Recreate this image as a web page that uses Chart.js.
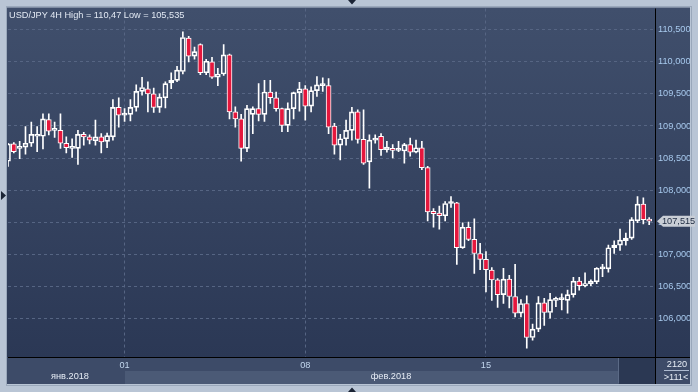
<!DOCTYPE html>
<html>
<head>
<meta charset="utf-8">
<script src="https://cdn.jsdelivr.net/npm/chart.js@4.4.1/dist/chart.umd.min.js"></script>
<style>
  html, body { margin: 0; padding: 0; background: #b9c5d5; }
  #wrap { position: relative; width: 698px; height: 392px; overflow: hidden; font-family: "Liberation Sans", Arial, sans-serif; font-size: 9.2px; }
  #wrap canvas { position: absolute; left: 0; top: 0; }
  .lbl { position: absolute; white-space: nowrap; line-height: 11px; z-index: 2; }
  #title { left: 9px; top: 10px; color: #e2e9f3; }
  #jan { left: 70px; top: 371px; color: #e6ecf5; transform: translateX(-50%); }
  #feb { left: 391px; top: 371px; color: #e6ecf5; transform: translateX(-50%); }
  #count { left: 677px; top: 359px; color: #e6ecf5; transform: translateX(-50%); }
  #visible { left: 676px; top: 372px; color: #e6ecf5; transform: translateX(-50%); }
  #last { left: 662px; color: #1d2a40; }
</style>
</head>
<body>
<div id="wrap">
  <canvas id="chartUsdJpy" width="698" height="392"></canvas>
  <div class="lbl" id="title"></div>
  <div class="lbl" id="jan"></div>
  <div class="lbl" id="feb"></div>
  <div class="lbl" id="count">2120</div>
  <div class="lbl" id="visible"></div>
  <div class="lbl" id="last"></div>
</div>
<script>
// USD/JPY 4H candles
const opens = [108.45,108.72,108.65,108.67,108.73,108.84,108.84,109.10,108.93,108.93,
  108.73,108.65,108.65,108.87,108.83,108.77,108.83,108.76,108.83,109.29,
  109.17,109.18,109.29,109.54,109.58,109.50,109.29,109.44,109.67,109.71,
  109.85,110.37,110.09,110.27,109.83,110.00,109.76,109.81,110.11,109.22,
  109.11,108.65,109.18,109.27,109.18,109.53,109.44,109.27,109.01,109.27,
  109.52,109.58,109.31,109.55,109.63,109.63,109.00,108.70,108.80,108.93,
  109.22,108.79,108.44,108.78,108.84,108.63,108.65,108.62,108.61,108.71,
  108.59,108.66,108.35,107.67,107.64,107.60,107.79,107.80,107.10,107.42,
  107.23,107.01,106.92,106.75,106.60,106.37,106.61,106.34,106.08,106.23,
  105.70,105.83,106.24,106.09,106.28,106.29,106.28,106.37,106.58,106.51,
  106.54,106.57,106.77,106.77,107.10,107.14,107.21,107.25,107.52,107.78,
  107.54]
const highs = [108.73,108.74,108.76,108.99,109.06,108.99,109.19,109.19,109.06,109.19,
  108.83,108.80,108.93,108.90,108.86,109.09,108.88,108.89,109.41,109.44,
  109.27,109.41,109.64,109.76,109.69,109.59,109.50,109.69,109.83,109.93,
  110.47,110.40,110.23,110.28,110.04,110.07,109.90,110.27,110.12,109.30,
  109.18,109.32,109.30,109.66,109.71,109.71,109.53,109.28,109.36,109.53,
  109.68,109.63,109.61,109.77,109.75,109.74,109.04,108.87,109.09,109.29,
  109.25,109.25,108.86,108.86,108.88,108.76,108.71,108.76,108.73,108.81,
  108.78,108.76,108.37,107.71,107.75,107.82,107.90,107.81,107.49,107.50,
  107.55,107.17,107.04,106.79,106.62,106.78,106.67,106.84,106.29,106.35,
  105.91,106.34,106.31,106.39,106.33,106.38,106.44,106.64,106.64,106.71,
  106.60,106.79,106.84,107.14,107.21,107.39,107.33,107.57,107.90,107.88,
  107.57]
const lows = [108.37,108.58,108.49,108.56,108.68,108.60,108.64,108.86,108.82,108.65,
  108.58,108.51,108.40,108.70,108.72,108.70,108.58,108.66,108.78,108.98,
  109.07,109.08,109.23,109.48,109.22,109.21,109.21,109.28,109.58,109.69,
  109.81,110.00,110.04,109.80,109.80,109.74,109.63,109.79,109.11,108.98,
  108.45,108.60,108.88,109.08,109.07,109.35,109.23,108.91,108.91,109.11,
  109.23,109.09,109.22,109.46,109.54,108.88,108.56,108.47,108.70,108.78,
  108.73,108.40,108.03,108.73,108.54,108.59,108.50,108.60,108.42,108.53,
  108.58,108.32,107.52,107.42,107.39,107.52,107.73,106.84,107.09,107.21,
  106.70,106.76,106.41,106.28,106.17,106.23,106.16,106.02,106.02,105.535,
  105.66,105.79,105.89,106.00,106.18,106.13,106.08,106.33,106.44,106.49,
  106.51,106.54,106.65,106.72,107.01,107.06,107.14,107.23,107.49,107.47,
  107.46]
const closes = [108.72,108.60,108.67,108.73,108.87,108.86,109.11,108.92,108.95,108.73,
  108.66,108.67,108.87,108.83,108.78,108.83,108.75,108.85,109.29,109.17,
  109.18,109.29,109.54,109.60,109.50,109.29,109.45,109.66,109.71,109.87,
  110.38,110.09,110.16,109.83,110.01,109.76,109.81,110.11,109.22,109.11,
  108.65,109.27,109.27,109.18,109.53,109.44,109.27,109.01,109.27,109.52,
  109.58,109.31,109.55,109.64,109.64,108.98,108.70,108.80,108.93,109.22,
  108.79,108.42,108.78,108.79,108.63,108.67,108.62,108.63,108.71,108.59,
  108.66,108.35,107.66,107.63,107.60,107.79,107.80,107.10,107.42,107.23,
  107.01,106.92,106.76,106.60,106.37,106.61,106.34,106.08,106.23,105.70,
  105.83,106.24,106.09,106.29,106.30,106.30,106.37,106.58,106.51,106.54,
  106.58,106.78,106.78,107.10,107.14,107.22,107.25,107.54,107.78,107.54,
  107.515]

const priceTicks = [106, 106.5, 107, 107.5, 108, 108.5, 109, 109.5, 110, 110.5]
const dayTickIndex = [20, 51, 82]      // candle index where each day starts
const dayTickLabels = ['01', '08', '15']
const monthLabels = ['янв.2018', 'фев.2018']

const upColor = 'rgba(0,0,0,0)'
const downColor = '#e5173d'
const gridColor = '#566583'
const comma = (v, d) => v.toFixed(d).replace('.', ',')

// one empty slot on the right of the last candle
const labels = Array.from({length: opens.length + 1}, (_, i) => i)
const bodies = opens.map((o, i) => [Math.min(o, closes[i]), Math.max(o, closes[i])])
const upperWicks = highs.map((h, i) => [Math.max(opens[i], closes[i]), h])
const lowerWicks = lows.map((l, i) => [l, Math.min(opens[i], closes[i])])

document.getElementById('title').textContent =
  'USD/JPY 4H High = ' + String(Math.max(...highs)).replace('.', ',') +
  ' Low = ' + String(Math.min(...lows)).replace('.', ',')
document.getElementById('jan').textContent = monthLabels[0]
document.getElementById('feb').textContent = monthLabels[1]
document.getElementById('visible').textContent = '>' + opens.length + '<'

Chart.defaults.font.family = '"Liberation Sans", Arial, sans-serif'
Chart.defaults.font.size = 9.2

// panel backgrounds, bottom band, frame lines and markers
const terminalFrame = {
  id: 'terminalFrame',
  beforeDraw(chart) {
    const {ctx, chartArea: a} = chart
    ctx.save()
    ctx.fillStyle = '#b9c5d5'
    ctx.fillRect(0, 0, 698, 392)
    ctx.strokeStyle = '#9aa8bb'
    ctx.strokeRect(6.5, 6.5, 685, 379)
    const g = ctx.createLinearGradient(0, a.top, 0, a.bottom)
    g.addColorStop(0, '#404f6c')
    g.addColorStop(1, '#2b3855')
    ctx.fillStyle = g
    ctx.fillRect(a.left - 1, a.top - 1, 690 - a.left + 1, a.bottom - a.top + 1)
    ctx.fillStyle = '#3d4b68'
    ctx.fillRect(a.left - 1, a.bottom, 690 - a.left + 1, 27)
    ctx.fillStyle = '#4b5a76'
    ctx.fillRect(125, 371, 494, 13)
    ctx.fillStyle = '#2b3853'
    ctx.fillRect(619, 358, 36, 26)
    ctx.fillStyle = '#5b6a86'
    ctx.fillRect(618, 358, 1, 25)
    ctx.restore()
  },
  afterDraw(chart) {
    const {ctx, chartArea: a} = chart
    ctx.save()
    ctx.fillStyle = '#000'
    ctx.fillRect(a.right, a.top, 1, 384 - a.top)
    ctx.fillRect(a.left, a.bottom, 690 - a.left, 1)
    ctx.fillStyle = '#aebbd0'
    ctx.fillRect(664, 370, 25, 1)
    // last price tag
    const y = chart.scales.y.getPixelForValue(closes[closes.length - 1])
    ctx.fillStyle = '#c9ced6'
    ctx.beginPath()
    ctx.moveTo(657, y)
    ctx.lineTo(663, y - 5.5)
    ctx.lineTo(695, y - 5.5)
    ctx.lineTo(695, y + 5.5)
    ctx.lineTo(663, y + 5.5)
    ctx.closePath()
    ctx.fill()
    // window markers
    ctx.fillStyle = '#1b2435'
    ctx.beginPath()
    ctx.moveTo(348, 0); ctx.lineTo(356, 0); ctx.lineTo(352, 4.5); ctx.closePath()
    ctx.moveTo(348, 392); ctx.lineTo(356, 392); ctx.lineTo(352, 387.5); ctx.closePath()
    ctx.moveTo(1, 191); ctx.lineTo(1, 200); ctx.lineTo(6, 195.5); ctx.closePath()
    ctx.fill()
    ctx.restore()
  }
}

const ctx_UsdJpy = document.getElementById('chartUsdJpy')

const chart = new Chart(ctx_UsdJpy, {
  type: 'bar',
  data: {
    labels: labels,
    datasets: [
      { data: upperWicks, backgroundColor: '#ffffff', barThickness: 1, grouped: false, order: 2, clip: 0 },
      { data: lowerWicks, backgroundColor: '#ffffff', barThickness: 1, grouped: false, order: 2, clip: 0 },
      {
        data: bodies,
        backgroundColor: ctx => closes[ctx.dataIndex] < opens[ctx.dataIndex] ? downColor : upColor,
        borderColor: '#ffffff',
        borderWidth: 1,
        borderSkipped: false,
        barThickness: 5,
        minBarLength: 2,
        grouped: false,
        order: 1,
        clip: 0
      }
    ]
  },
  options: {
    responsive: false,
    animation: false,
    layout: { padding: { left: 8, top: 8, right: 8, bottom: 8 } },
    plugins: { legend: { display: false }, tooltip: { enabled: false } },
    scales: {
      x: {
        type: 'category',
        offset: false,
        grid: {
          offset: false,
          drawTicks: false,
          color: c => dayTickIndex.includes(c.index) ? gridColor : 'rgba(0,0,0,0)'
        },
        border: { display: false, dash: [3, 3] },
        ticks: {
          autoSkip: false,
          maxRotation: 0,
          padding: 3,
          color: '#c3d7ee',
          callback: (v, i) => {
            const k = dayTickIndex.indexOf(i)
            return k >= 0 ? dayTickLabels[k] : ''
          }
        },
        afterFit: s => { s.height = 27 }
      },
      y: {
        position: 'right',
        min: 105.396,
        max: 110.832,
        afterBuildTicks: s => { s.ticks = priceTicks.map(v => ({ value: v })) },
        grid: { color: gridColor, drawTicks: false },
        border: { display: false, dash: [3, 3] },
        ticks: {
          padding: 3,
          crossAlign: 'near',
          color: '#a8caee',
          callback: v => comma(v, 3)
        },
        afterFit: s => { s.width = 35 }
      }
    }
  },
  plugins: [terminalFrame]
})

// last price text next to the tag
const lastY = chart.scales.y.getPixelForValue(closes[closes.length - 1])
const lastEl = document.getElementById('last')
lastEl.textContent = comma(closes[closes.length - 1], 3)
lastEl.style.top = (lastY - 5.5) + 'px'
</script>
</body>
</html>
